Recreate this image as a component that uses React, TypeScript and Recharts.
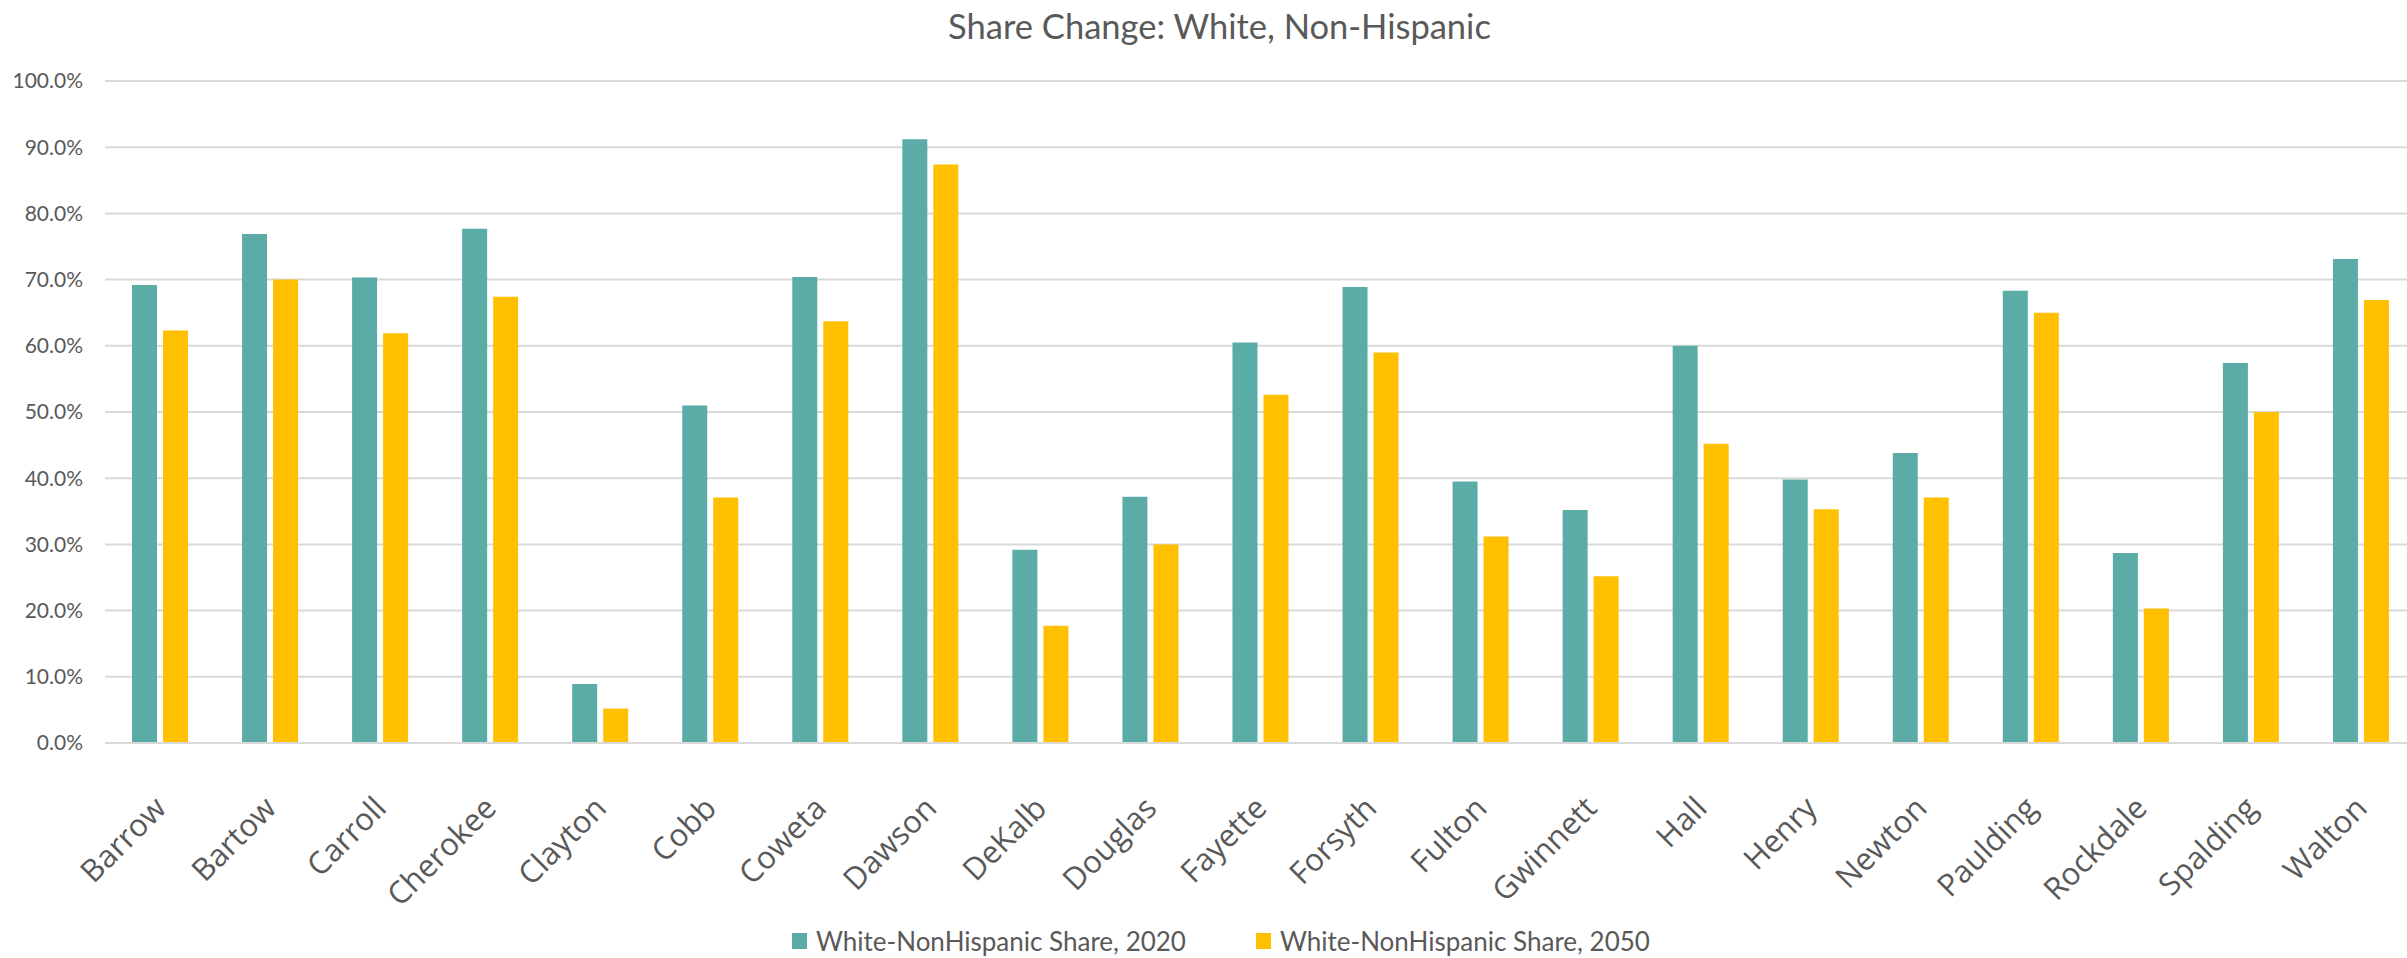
import React from 'react';
import { BarChart, Bar, XAxis, YAxis, CartesianGrid } from 'recharts';

const counties = ['Barrow','Bartow','Carroll','Cherokee','Clayton','Cobb','Coweta','Dawson','DeKalb','Douglas','Fayette','Forsyth','Fulton','Gwinnett','Hall','Henry','Newton','Paulding','Rockdale','Spalding','Walton'];
const share2020 = [69.2,76.9,70.3,77.7,8.9,51.0,70.4,91.2,29.2,37.2,60.5,68.9,39.5,35.2,60.0,39.8,43.8,68.3,28.7,57.4,73.1];
const share2050 = [62.3,70.0,61.9,67.4,5.2,37.1,63.7,87.4,17.7,30.0,52.6,59.0,31.2,25.2,45.2,35.3,37.1,65.0,20.3,50.0,66.9];
const yTicks = [0,10,20,30,40,50,60,70,80,90,100];
const seriesNames = ['White-NonHispanic Share, 2020','White-NonHispanic Share, 2050'];
const titleText = 'Share Change: White, Non-Hispanic';

const TEAL = '#5BABA7';
const GOLD = '#FFC000';
const TXT = '#595959';
const FONT = 'Lato, "Open Sans", sans-serif';
const XFONT = '"Open Sans", Lato, sans-serif';

const data = counties.map((c, i) => ({ name: c, a: share2020[i], b: share2050[i] }));

const XTick = (props: any) => {
  const { x, y, payload } = props;
  const ax = x + 8;
  const ay = y + 59;
  return (
    <text x={ax} y={ay} transform={`rotate(-45, ${ax}, ${ay})`} textAnchor="end" fill={TXT} fontSize={31} fontFamily={XFONT}>
      {payload.value}
    </text>
  );
};

export default function App() {
  return (
    <div style={{ position: 'absolute', left: 0, top: 0, width: 2407, height: 958, overflow: 'hidden', background: '#fff' }}>
      <div style={{ position: 'absolute', left: 16, top: 5, width: 2407, textAlign: 'center', fontFamily: FONT, fontSize: 34.5, color: TXT }}>
        {titleText}
      </div>
      <BarChart width={2420} height={958} data={data} margin={{ top: 81, right: 4, bottom: 0, left: 0 }} barSize={25} barGap={6}>
        <CartesianGrid vertical={false} stroke="#D9D9D9" strokeWidth={2} />
        <XAxis dataKey="name" interval={0} tickLine={false} axisLine={{ stroke: '#D9D9D9', strokeWidth: 2 }} height={215} tick={<XTick />} />
        <YAxis domain={[0, 100]} ticks={yTicks} width={105} tickLine={false} axisLine={false} tickMargin={16}
          tick={{ fill: TXT, fontSize: 21, fontFamily: FONT }} tickFormatter={(v: number) => `${v.toFixed(1)}%`} />
        <Bar dataKey="a" name={seriesNames[0]} fill={TEAL} isAnimationActive={false} />
        <Bar dataKey="b" name={seriesNames[1]} fill={GOLD} isAnimationActive={false} />
      </BarChart>
      <div style={{ position: 'absolute', left: 792, top: 925, height: 32, display: 'flex', alignItems: 'center', fontFamily: FONT, fontSize: 26, lineHeight: '30px', color: TXT, whiteSpace: 'nowrap' }}>
        <span style={{ display: 'inline-block', width: 15, height: 16, background: TEAL, marginRight: 9 }} />
        <span style={{ marginRight: 70 }}>{seriesNames[0]}</span>
        <span style={{ display: 'inline-block', width: 15, height: 16, background: GOLD, marginRight: 9 }} />
        <span>{seriesNames[1]}</span>
      </div>
    </div>
  );
}
